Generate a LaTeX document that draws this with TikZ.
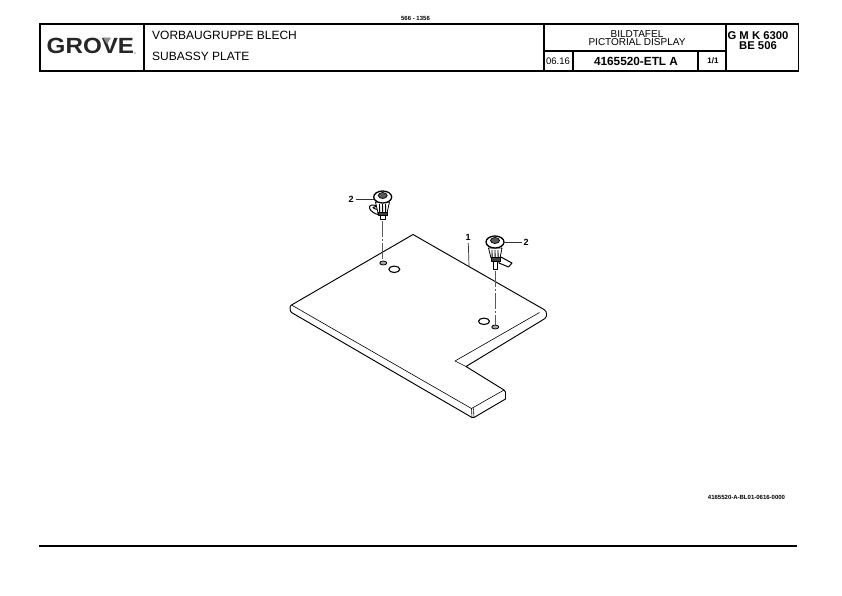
\documentclass[tikz,border=0pt]{standalone}
\usepackage{fontspec}
\setmainfont{Liberation Sans}
\usetikzlibrary{positioning}
\tikzset{
    font={\fontsize{8pt}{8}\selectfont},
    frame/.style={draw=black, line width=1.4pt},
    title/.style={anchor=west, inner sep=0pt, font={\fontsize{12pt}{12}\selectfont}},
    heading/.style={inner sep=0pt, align=center, font={\fontsize{10pt}{8.5}\selectfont}},
    boldcell/.style={inner sep=0pt, align=center, font={\fontsize{11.8pt}{10}\selectfont\bfseries}},
    smallcell/.style={inner sep=0pt, font={\fontsize{9.5pt}{9.5}\selectfont}},
    tinytext/.style={inner sep=0pt, font={\fontsize{6pt}{6}\selectfont\bfseries}},
    callout/.style={inner sep=0pt, font={\fontsize{9pt}{9}\selectfont\bfseries}},
    leader/.style={draw=black!80, line width=0.7pt},
    plate/.style={draw=black, line width=0.95pt, line join=round},
    axis/.style={draw=black!65, line width=1pt, dash pattern=on 16pt off 2pt on 2pt off 2pt},
    part/.style={draw=black, line width=0.8pt, fill=white, line join=round},
}
\begin{document}
\begin{tikzpicture}[x=1pt,y=-1pt]
\useasboundingbox (0,0) rectangle (842,595);

% title block
\draw[frame] (40,24) rectangle (798.5,71);
\draw[frame] (144,24) -- (144,71);
\draw[frame] (544,24) -- (544,71);
\draw[frame] (726,24) -- (726,71);
\draw[frame] (544,51) -- (726,51);
\draw[frame] (573,51) -- (573,71);
\draw[frame] (698,51) -- (698,71);

\node[tinytext] (SHEETNO) at (415.5,18) {566 - 1356};

% logo
\node[inner sep=0pt, anchor=west, xscale=1.1, font={\fontsize{22pt}{22}\selectfont\bfseries}, text=black!85] (LOGO) at (46.5,46) {GROVE};
\fill[black!45] (103,37.5) -- (111,37.5) -- (107,44) -- cycle;
\node[inner sep=0pt, font={\fontsize{3pt}{3}\selectfont}, text=black!60] (LOGOMARK) at (135,53) {®};

\node[title] (TITLEDE) at (152,35) {VORBAUGRUPPE BLECH};
\node[title] (TITLEEN) at (152,56) {SUBASSY PLATE};
\node[heading] (DISPLAY) at (637,38) {BILDTAFEL\\PICTORIAL DISPLAY};
\node[smallcell] (DATE) at (558,61) {06.16};
\node[boldcell] (DRAWINGNO) at (636,61) {4165520-ETL A};
\node[smallcell, font={\fontsize{8pt}{8}\selectfont\bfseries}] (PAGE) at (713,61) {1/1};
\node[boldcell, font={\fontsize{11.3pt}{10}\selectfont\bfseries}] (MODEL) at (758,41) {G M K 6300\\BE 506};

% plate
\draw[plate] (291.5,305) -- (413,234.5) -- (544,309.5)
    .. controls (546,311) and (546.5,312) .. (546.5,314)
    -- (546.5,316) .. controls (546.5,317.5) and (546,318) .. (545,318.5)
    -- (466,366.5) -- (504,390) -- (505.5,392) -- (505.5,399)
    -- (474,417.5) -- (472,417.5) -- (291.5,312.5)
    .. controls (290.5,311.5) and (290,310) .. (290,308)
    .. controls (290,306.5) and (290.5,305.5) .. (291.5,305) -- cycle;
\draw[plate, line width=0.6pt] (291.5,305) -- (471.5,408.5) -- (504,390);
\draw[plate, line width=0.6pt] (539.5,312.5) -- (455,361) -- (466,366.5);
\draw[plate, line width=0.6pt] (471.5,408.5) -- (472,417.5);
\draw[plate, line width=0.6pt] (473.5,408.5) -- (474,417.5);

% holes
\draw[part, fill=black!35] (383.3,263) ellipse (3.5pt and 2pt);
\draw[part, line width=1.1pt] (394.3,269.3) ellipse (5.5pt and 3.2pt);
\draw[part, fill=black!35] (495.3,327) ellipse (3.5pt and 2pt);
\draw[part, line width=1.1pt] (484,321.3) ellipse (5.5pt and 3.2pt);

% left fastener
\coordinate (LEFTSTEM) at (382.7,221);
\coordinate (LEFTSEAT) at (382.7,261);
\draw[axis] (LEFTSTEM) -- (LEFTSEAT);
\draw[part, line width=1pt] (377,206) .. controls (372,204) and (369,205) .. (369.5,208)
    .. controls (370,211) and (375,214) .. (378,214.5) -- (379,210) .. controls (376,209.5) and (373,208) .. (373,207.5) -- cycle;
\draw[part] (375.5,202) -- (378,213) -- (387,213) -- (389.5,202) -- cycle;
\foreach \xpos in {379.5,382.5,385.5}
    \draw[line width=0.9pt] (\xpos,204) -- (\xpos+0.2,213);
\draw[part, fill=black!75] (378,212) rectangle (387,215);
\draw[part] (380.5,215) rectangle (385,219.5);
\draw[part, line width=1.3pt] (382.7,197) ellipse (9pt and 6pt);
\draw[part, fill=black!65, line width=0.7pt] (382.7,195.5) ellipse (4.5pt and 3pt);

% right fastener
\coordinate (RIGHTSTEM) at (495.2,271);
\coordinate (RIGHTSEAT) at (495.2,325);
\draw[axis] (RIGHTSTEM) -- (RIGHTSEAT);
\draw[part, line width=1pt] (499,256) -- (512,263) -- (508.5,267) -- (499,263) -- cycle;
\draw[part] (488.5,248) -- (491,258) -- (500,258) -- (502,248) -- cycle;
\foreach \xpos in {492,495,498}
    \draw[line width=0.9pt] (\xpos,250) -- (\xpos+0.1,258);
\draw[part, fill=black!75] (491,257.5) rectangle (500,261);
\draw[part] (493,261) rectangle (497.5,269.5);
\draw[part, line width=1.3pt] (495,242) ellipse (9pt and 6pt);
\draw[part, fill=black!65, line width=0.7pt] (495,240.5) ellipse (4.5pt and 3pt);

% callouts
\node[callout] (CALLLEFT) at (351,199) {2};
\coordinate (LEFTHEAD) at (374,199);
\draw[leader] (CALLLEFT) ++(5,0) -- (LEFTHEAD);
\node[callout] (CALLRIGHT) at (526,242.5) {2};
\coordinate (RIGHTHEAD) at (504,242.5);
\draw[leader] (CALLRIGHT) ++(-4.5,0) -- (RIGHTHEAD);
\node[callout] (CALLPLATE) at (468,237.5) {1};
\coordinate (PLATEEDGE) at (469,266);
\draw[leader] (CALLPLATE) ++(0.3,5.5) -- (PLATEEDGE);

\node[tinytext] (DRAWINGREF) at (746.5,497) {4165520-A-BL01-0616-0000};

% footer rule
\draw[frame, line width=1.6pt] (39,546) -- (797,546);
\end{tikzpicture}
\end{document}
